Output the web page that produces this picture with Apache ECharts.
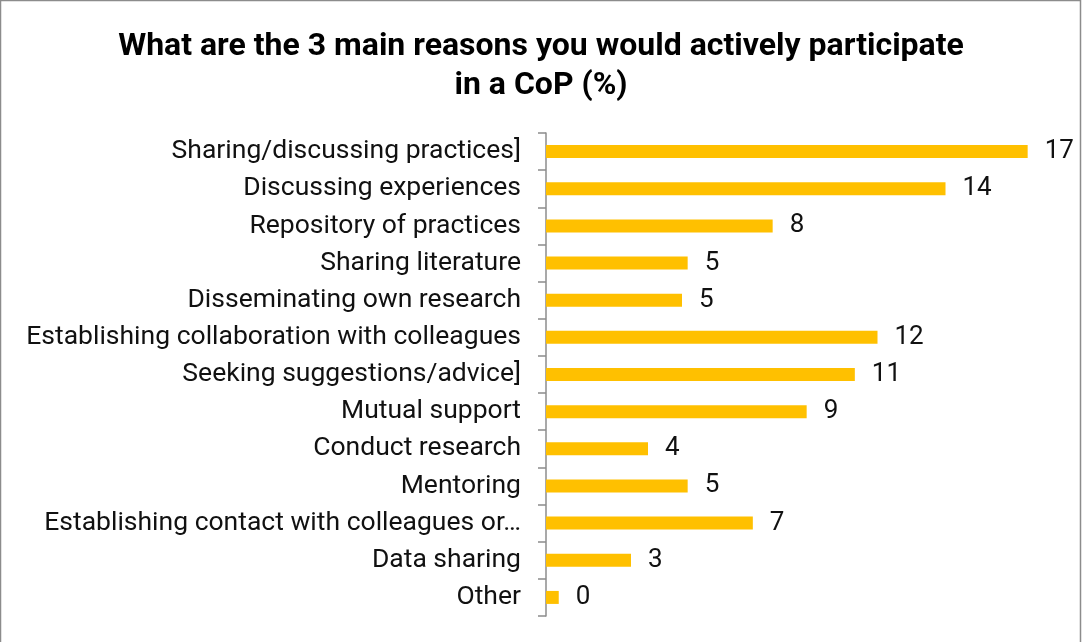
<!DOCTYPE html>
<html lang="en">
<head>
    <meta charset="UTF-8">
    <title>CoP reasons</title>
    <style>
        html, body { margin: 0; padding: 0; background: #fff; }
    </style>
</head>
<body>
<div id="myChart" style="width: 1082px;height: 642px;"></div>
<script src="https://cdn.jsdelivr.net/npm/echarts@6/dist/echarts.min.js"></script>
<script>
    var chartTitle = "What are the 3 main reasons you would actively participate\nin a CoP (%)";
    // top to bottom, as in the picture
    var reasons = [
        "Sharing/discussing practices]",
        "Discussing experiences",
        "Repository of practices",
        "Sharing literature",
        "Disseminating own research",
        "Establishing collaboration with colleagues",
        "Seeking suggestions/advice]",
        "Mutual support",
        "Conduct research",
        "Mentoring",
        "Establishing contact with colleagues or\u2026",
        "Data sharing",
        "Other"
    ];
    var percents = [17.0, 14.1, 8.0, 5.0, 4.8, 11.7, 10.9, 9.2, 3.6, 5.0, 7.3, 3.0, 0.45];

    var myChart = echarts.init(document.querySelector("#myChart"));

    var option = {
        animation: false,
        textStyle: { fontFamily: "Roboto" },
        title: {
            text: chartTitle,
            left: "center",
            top: 22,
            textStyle: {
                fontFamily: "Roboto",
                fontWeight: "bold",
                fontSize: 32,
                lineHeight: 39,
                color: "#000"
            }
        },
        graphic: [{
            type: "rect",
            shape: { x: 0.5, y: 0.5, width: 1080, height: 700 },
            style: { fill: "none", stroke: "#8c8c8c", lineWidth: 1.5 },
            silent: true
        }],
        grid: {
            left: 546,
            right: 26,
            top: 133,
            bottom: 26
        },
        xAxis: {
            type: "value",
            min: 0,
            max: 18,
            show: false
        },
        yAxis: {
            type: "category",
            inverse: true,
            data: reasons,
            axisLine: { lineStyle: { color: "#8c8c8c", width: 1.5 } },
            axisTick: { show: true, length: 8, lineStyle: { color: "#8c8c8c", width: 1.5 } },
            axisLabel: {
                margin: 25,
                fontSize: 26.5,
                color: "#111"
            }
        },
        series: [{
            type: "bar",
            data: percents,
            barWidth: 13,
            itemStyle: { color: "#FFC000" },
            label: {
                show: true,
                position: "right",
                distance: 17,
                fontSize: 26,
                color: "#111",
                formatter: function (p) { return Math.round(p.value); }
            }
        }]
    };
    myChart.setOption(option);
</script>
</body>
</html>
